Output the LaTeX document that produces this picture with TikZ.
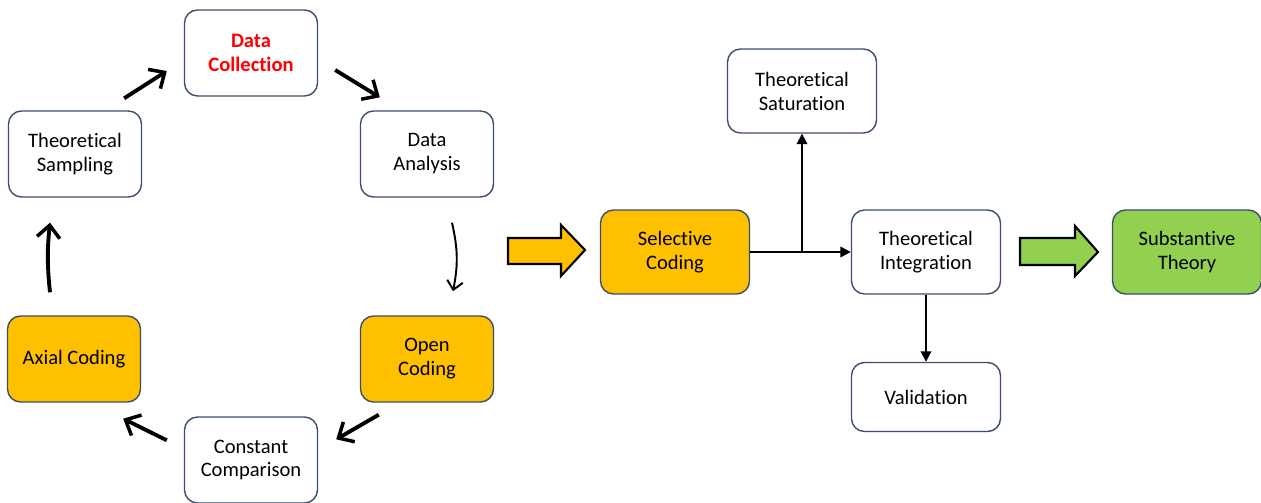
\documentclass[tikz,border=0pt]{standalone}
\usepackage{fontspec}
\setmainfont{Carlito}[Ligatures=NoCommon]
\usetikzlibrary{arrows.meta, positioning}
\definecolor{boxline}{HTML}{3B4E6B}
\definecolor{codeorange}{HTML}{FFC000}
\definecolor{theorygreen}{HTML}{92D050}

\begin{document}
\begin{tikzpicture}[x=0.02cm,y=-0.02cm,
  main node/.style={rectangle,rounded corners=2.6mm,draw=boxline,line width=0.8pt,
  fill=white,align=center,inner sep=1pt,font=\fontsize{11.7}{13.6}\selectfont,
  minimum width=2.66cm,minimum height=1.72cm},
  wide node/.style={main node,minimum width=2.98cm,minimum height=1.68cm},
  cyc/.style={-{Straight Barb[length=7pt,width=13pt,line width=2pt]},line width=2.2pt},
  thin cyc/.style={-{Straight Barb[length=5pt,width=9pt]},line width=1.1pt},
  conn/.style={-{Triangle[length=6pt,width=6pt]},line width=1.1pt},
  block/.style={draw=black,line width=1.2pt,line join=miter}]
  \useasboundingbox (0,0) rectangle (1261,503);

  % the cycle
  \node[main node] (dc) at (251,53) {\textcolor{red}{\bfseries Data}\\\textcolor{red}{\bfseries Collection}};
  \node[main node] (da) at (427,154) {Data\\Analysis};
  \node[main node,fill=codeorange] (oc) at (427,359) {Open\\Coding};
  \node[main node] (cc) at (251,460) {Constant\\Comparison};
  \node[main node,fill=codeorange] (ac) at (74,359) {Axial Coding};
  \node[main node] (ts) at (75,154) {Theoretical\\Sampling};

  \draw[cyc] ([shift={(-18,-12)}]ts.north east) -- ([shift={(-17,18)}]dc.west);
  \draw[cyc] ([shift={(17,17)}]dc.east) -- ([shift={(20,-13)}]da.north west);
  \draw[thin cyc] ([shift={(25,25)}]da.south) to[bend left=12] ([shift={(26,-24)}]oc.north);
  \draw[cyc] ([shift={(19,12)}]oc.south west) -- ([shift={(18,23)}]cc.north east);
  \draw[cyc] ([shift={(-17,24)}]cc.north west) -- ([shift={(-18,16)}]ac.south east);
  \draw[cyc] ([shift={(-24,-23)}]ac.north) to[bend left=6] ([shift={(-25,25)}]ts.south);

  % right part
  \node[wide node,fill=codeorange] (sc) at (675,252) {Selective\\Coding};
  \node[wide node] (sat) at (802,91) {Theoretical\\Saturation};
  \node[wide node] (ti) at (926,252) {Theoretical\\Integration};
  \node[wide node,minimum height=1.38cm] (val) at (926,397) {Validation};
  \node[wide node,fill=theorygreen] (st) at (1187,252) {Substantive\\Theory};

  \draw[conn] (sc) -- (ti);
  \draw[conn] (sat.south |- sc.east) -- (sat.south);
  \draw[conn] (ti) -- (val);

  % block arrows
  \draw[block,fill=codeorange] (508,238) -- (561,238) -- (561,225) -- (585,250)
    -- (561,276) -- (561,264) -- (508,264) -- cycle;
  \draw[block,fill=theorygreen] (1020,238) -- (1075,238) -- (1075,226) -- (1098,252)
    -- (1075,276) -- (1075,265) -- (1020,265) -- cycle;
\end{tikzpicture}
\end{document}
